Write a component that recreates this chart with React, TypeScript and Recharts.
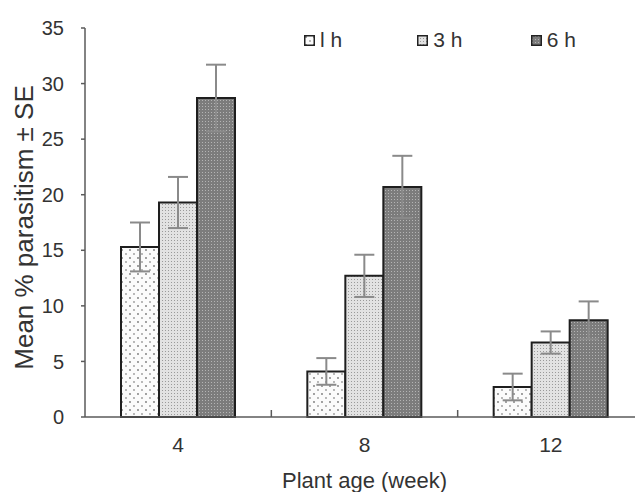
import { BarChart, Bar, XAxis, YAxis, ErrorBar, Legend } from 'recharts';

const ages = ['4', '8', '12'];
const oneHour = [15.3, 4.1, 2.7];
const threeHour = [19.3, 12.7, 6.7];
const sixHour = [28.7, 20.7, 8.7];
const seOneHour = [2.2, 1.2, 1.2];
const seThreeHour = [2.3, 1.9, 1.0];
const seSixHour = [3.0, 2.8, 1.7];
const yTicks = [0, 5, 10, 15, 20, 25, 30, 35];

const data = ages.map((age, i) => ({
  age,
  h1: oneHour[i],
  h3: threeHour[i],
  h6: sixHour[i],
  se1: seOneHour[i],
  se3: seThreeHour[i],
  se6: seSixHour[i],
}));

const series = [
  { key: 'h1', se: 'se1', name: 'l h', fill: 'url(#p1h)' },
  { key: 'h3', se: 'se3', name: '3 h', fill: 'url(#p3h)' },
  { key: 'h6', se: 'se6', name: '6 h', fill: 'url(#p6h)' },
];

const FONT = '"Liberation Sans", Arial, sans-serif';
const CHART_W = 660;
const CHART_H = 492;
const MARGIN = { top: 28, right: 16, bottom: 0, left: 0 };
const Y_W = 85;
const X_H = 75;
const AXIS = '#5a5a5a';
const bandW = (CHART_W - MARGIN.left - MARGIN.right - Y_W) / ages.length;

const AgeTick = (props: any) => {
  const { x, y, payload, index } = props;
  return (
    <g>
      {index < ages.length - 1 && (
        <line x1={x + bandW / 2} x2={x + bandW / 2} y1={y} y2={y - 7} stroke={AXIS} strokeWidth={1.5} />
      )}
      <text x={x} y={y + 35} textAnchor="middle" fontSize={21} fontFamily={FONT} fill="#333">
        {payload.value}
      </text>
    </g>
  );
};

const LegendBox = () => (
  <div style={{ display: 'flex', fontFamily: FONT, fontSize: 21, color: '#333' }}>
    {series.map((s) => (
      <div key={s.key} style={{ width: 114, display: 'flex', alignItems: 'center' }}>
        <svg width={11} height={11} style={{ display: 'block' }}>
          <rect x={0.75} y={0.75} width={9.5} height={9.5} fill={s.fill} stroke="#222" strokeWidth={1.5} />
        </svg>
        <span style={{ marginLeft: 5, lineHeight: '22px' }}>{s.name}</span>
      </div>
    ))}
  </div>
);

export default function App() {
  return (
    <div style={{ position: 'absolute', left: 0, top: 0, width: 635, height: 492, overflow: 'hidden', background: '#fff' }}>
      <BarChart width={CHART_W} height={CHART_H} data={data} margin={MARGIN} barGap={0} barSize={38}>
        <defs>
          <pattern id="p1h" width={8} height={8} patternUnits="userSpaceOnUse">
            <rect width={8} height={8} fill="#fbfbfb" />
            <circle cx={2} cy={2} r={0.9} fill="#777" />
            <circle cx={6} cy={6} r={0.9} fill="#999" />
          </pattern>
          <pattern id="p3h" width={3} height={3} patternUnits="userSpaceOnUse">
            <rect width={3} height={3} fill="#e2e2e2" />
            <rect width={1} height={1} fill="#9a9a9a" />
          </pattern>
          <pattern id="p6h" width={3} height={3} patternUnits="userSpaceOnUse">
            <rect width={3} height={3} fill="#7c7c7c" />
            <rect x={1} y={1} width={1} height={1} fill="#b4b4b4" />
          </pattern>
        </defs>
        <XAxis
          dataKey="age"
          height={X_H}
          axisLine={{ stroke: AXIS, strokeWidth: 1.5 }}
          tickLine={false}
          tickSize={0}
          tickMargin={0}
          tick={<AgeTick />}
          interval={0}
          label={{
            content: ({ viewBox }: any) => (
              <text
                x={viewBox.x + viewBox.width / 2}
                y={viewBox.y + 71}
                textAnchor="middle"
                fontSize={22}
                fontFamily={FONT}
                fill="#333"
              >
                Plant age (week)
              </text>
            ),
          }}
        />
        <YAxis
          width={Y_W}
          domain={[0, 35]}
          ticks={yTicks}
          interval={0}
          axisLine={{ stroke: AXIS, strokeWidth: 1.5 }}
          tickLine={{ stroke: AXIS, strokeWidth: 1.5 }}
          tickSize={4}
          tickMargin={17}
          tick={{ fontSize: 20, fontFamily: FONT, fill: '#333' }}
          label={{
            content: ({ viewBox }: any) => {
              const cx = 24;
              const cy = viewBox.y + viewBox.height / 2 + 5;
              return (
                <text
                  x={cx}
                  y={cy}
                  transform={`rotate(-90 ${cx} ${cy})`}
                  textAnchor="middle"
                  dominantBaseline="central"
                  fontSize={26}
                  fontFamily={FONT}
                  fill="#333"
                >
                  Mean % parasitism ± SE
                </text>
              );
            },
          }}
        />
        <Legend
          layout="horizontal"
          verticalAlign="middle"
          align="center"
          content={() => <LegendBox />}
          wrapperStyle={{ top: 29, left: 304, width: 340 }}
        />
        {series.map((s) => (
          <Bar
            key={s.key}
            dataKey={s.key}
            name={s.name}
            fill={s.fill}
            stroke="#1e1e1e"
            strokeWidth={2}
            isAnimationActive={false}
          >
            <ErrorBar dataKey={s.se} width={10} stroke="#8a8a8a" strokeWidth={2} direction="y" />
          </Bar>
        ))}
      </BarChart>
    </div>
  );
}
